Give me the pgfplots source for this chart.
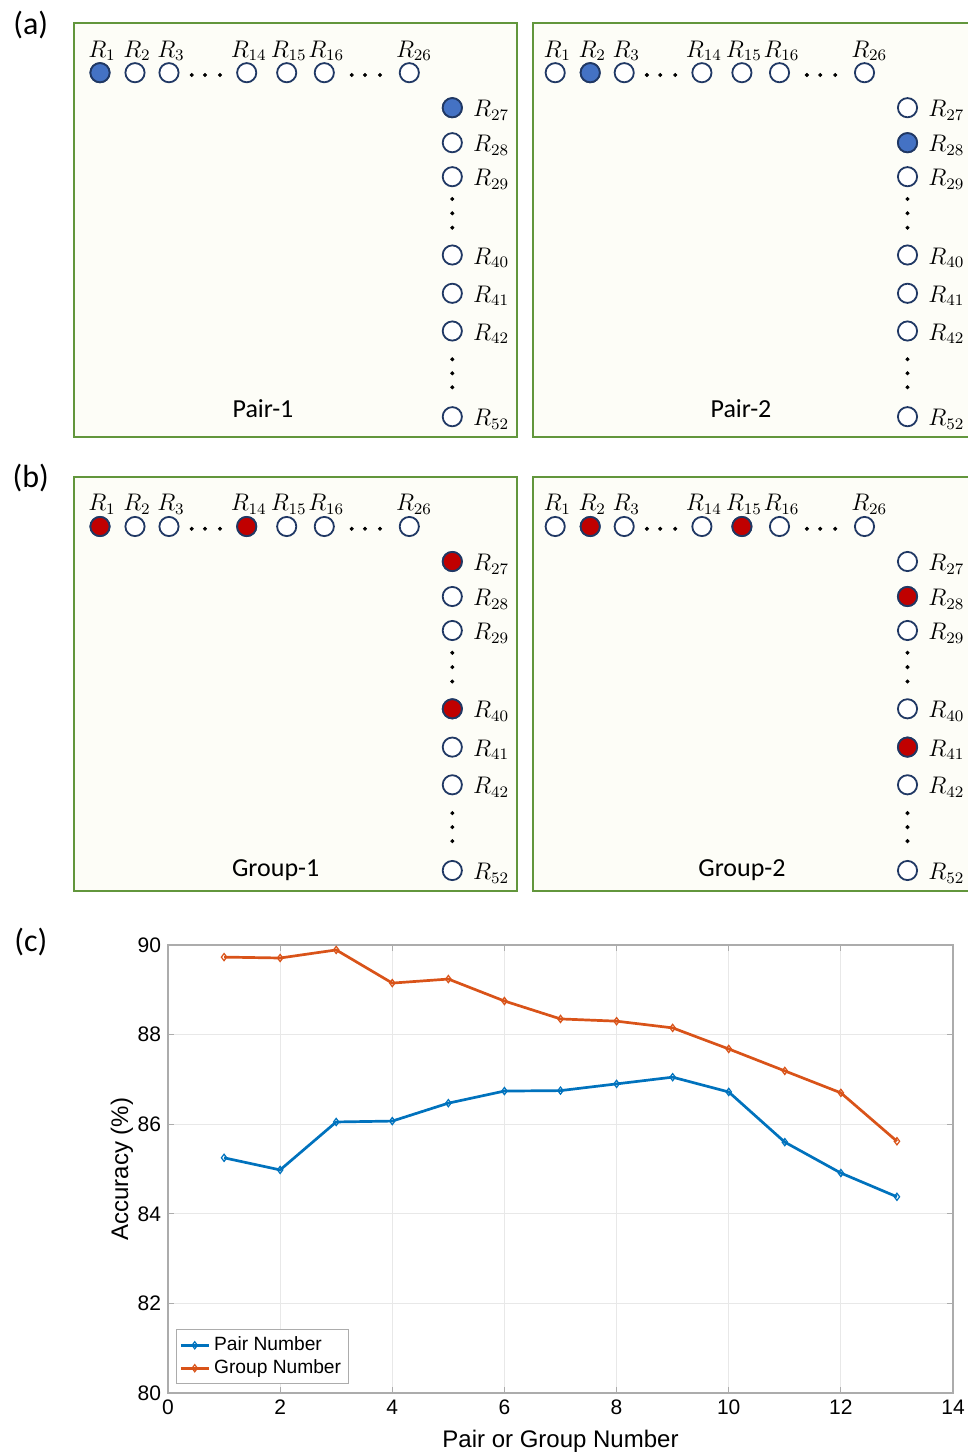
\documentclass[border=0pt]{standalone}
\usepackage{pgfplots}
\pgfplotsset{compat=1.18}
\usepackage{pgfplotstable}
\usepackage{fontspec}
\setmainfont{Carlito}
\newfontfamily\arialf{Liberation Sans}
\definecolor{pgreen}{RGB}{98,150,60}
\definecolor{pcream}{RGB}{253,253,247}
\definecolor{navy}{RGB}{32,56,100}
\definecolor{fblue}{RGB}{68,114,196}
\definecolor{fred}{RGB}{192,0,0}
\definecolor{mblue}{RGB}{0,114,189}
\definecolor{morange}{RGB}{217,83,25}

\pgfplotstableread{
x y
26 49.7
61 49.7
95 49.7
172.7 49.7
212.7 49.7
250.3 49.7
335.3 49.7
378.3 84.7
378.3 119.7
378.3 153.7
378.3 232
378.3 270.3
378.3 308
378.3 393.7
}\circles

\pgfplotstableread{
x y
117.7 52
131 52
146 52
277.7 52
291 52
306 52
378.3 176
378.3 190.3
378.3 204.7
378.3 336.3
378.3 350.3
378.3 364.3
}\dotsrc

\pgfplotstableread{
x y
26 49.7
378.3 84.7
}\pairone
\pgfplotstableread{
x y
61 49.7
378.3 119.7
}\pairtwo
\pgfplotstableread{
x y
26 49.7
172.7 49.7
378.3 84.7
378.3 232
}\groupone
\pgfplotstableread{
x y
61 49.7
212.7 49.7
378.3 119.7
378.3 270.3
}\grouptwo

\pgfplotstableread{
n pair group
1 85.25 89.73
2 84.98 89.71
3 86.05 89.89
4 86.07 89.15
5 86.47 89.24
6 86.74 88.75
7 86.75 88.35
8 86.90 88.30
9 87.05 88.15
10 86.72 87.68
11 85.60 87.19
12 84.91 86.70
13 84.38 85.62
}\acc

\tikzset{
rt/.style={anchor=base, inner sep=0pt, font=\fontsize{11.5}{13}\selectfont},
rc/.style={anchor=base west, inner sep=0pt, font=\fontsize{11.5}{13}\selectfont},
pl/.style={anchor=base, inner sep=0pt, font=\fontsize{13}{15}\selectfont},
}

\newcommand\rlabels{%
\node[rt] at (axis cs:28,34) {$R_{1}$};
\node[rt] at (axis cs:63,34) {$R_{2}$};
\node[rt] at (axis cs:97,34) {$R_{3}$};
\node[rt] at (axis cs:174.7,34) {$R_{14}$};
\node[rt] at (axis cs:214.7,34) {$R_{15}$};
\node[rt] at (axis cs:252.3,34) {$R_{16}$};
\node[rt] at (axis cs:340,34) {$R_{26}$};
\node[rc] at (axis cs:398.8,93.7) {$R_{27}$};
\node[rc] at (axis cs:398.8,128.7) {$R_{28}$};
\node[rc] at (axis cs:398.8,162.7) {$R_{29}$};
\node[rc] at (axis cs:398.8,241) {$R_{40}$};
\node[rc] at (axis cs:398.8,279.3) {$R_{41}$};
\node[rc] at (axis cs:398.8,317) {$R_{42}$};
\node[rc] at (axis cs:398.8,402.7) {$R_{52}$};
}

\pgfplotsset{
panel/.style={anchor=north west, scale only axis, width=221.5pt, height=207pt,
  xmin=0, xmax=443, ymin=0, ymax=414, y dir=reverse,
  axis line style={draw=pgreen, line width=1pt},
  axis background/.style={fill=pcream},
  ticks=none, clip=false},
ring/.style={only marks, mark=*, mark size=4.8pt, mark options={draw=navy, fill=white, line width=0.9pt}},
full/.style={only marks, mark=*, mark size=4.8pt, mark options={draw=navy, fill=#1, line width=0.9pt}},
dotty/.style={only marks, mark=*, mark size=0.8pt, mark options={draw=black, fill=black}},
}

\begin{document}
\begin{tikzpicture}
\useasboundingbox (0,0) rectangle (484pt,-727.5pt);
\clip (0,0) rectangle (484pt,-727.5pt);
\node[font=\fontsize{16}{18}\selectfont] at (15.4pt,-12.5pt) {(a)};
\node[font=\fontsize{16}{18}\selectfont] at (15.4pt,-239pt) {(b)};
\node[font=\fontsize{16}{18}\selectfont] at (15.4pt,-471pt) {(c)};

% Pair-1
\begin{axis}[panel, at={(37pt,-11.5pt)}]
\addplot[ring] table {\circles};
\addplot[full=fblue] table {\pairone};
\addplot[dotty] table {\dotsrc};
\rlabels
\node[pl] at (axis cs:189,394) {Pair-1};
\end{axis}

% Pair-2
\begin{axis}[panel, at={(266.35pt,-11.5pt)}, xmin=3.5, xmax=446.5]
\addplot[ring] table {\circles};
\addplot[full=fblue] table {\pairtwo};
\addplot[dotty] table {\dotsrc};
\rlabels
\node[pl] at (axis cs:211.8,394) {Pair-2};
\end{axis}

% Group-1
\begin{axis}[panel, at={(37pt,-238.4pt)}]
\addplot[ring] table {\circles};
\addplot[full=fred] table {\groupone};
\addplot[dotty] table {\dotsrc};
\rlabels
\node[pl] at (axis cs:201.7,400) {Group-1};
\end{axis}

% Group-2
\begin{axis}[panel, at={(266.35pt,-238.4pt)}, xmin=3.5, xmax=446.5]
\addplot[ring] table {\circles};
\addplot[full=fred] table {\grouptwo};
\addplot[dotty] table {\dotsrc};
\rlabels
\node[pl] at (axis cs:212.8,400) {Group-2};
\end{axis}

% Chart (c)
\begin{axis}[at={(84pt,-472.5pt)}, anchor=north west, scale only axis,
  width=392.5pt, height=224pt,
  xmin=0, xmax=14, ymin=80, ymax=90,
  xtick={0,2,...,14}, ytick={80,82,...,90},
  grid=major, grid style={gray!18, line width=0.4pt},
  axis line style={gray!65, line width=0.6pt},
  tick style={gray!65, line width=0.6pt},
  tick align=inside, major tick length=3pt,
  /pgf/number format/assume math mode=true,
  ticklabel style={font=\arialf\fontsize{10.5}{12}\selectfont},
  xlabel={Pair or Group Number}, ylabel={Accuracy (\%)},
  label style={font=\arialf\fontsize{12}{14}\selectfont},
  xlabel style={at={(axis description cs:0.5,-0.107)}, anchor=center},
  ylabel style={at={(axis description cs:-0.0586,0.5)}, anchor=center},
  legend style={at={(axis description cs:0.0102,0.02)}, anchor=south west,
    font=\arialf\fontsize{9.6}{12}\selectfont, draw=gray!65, inner sep=1.5pt,
    row sep=-1pt, cells={anchor=west}},
  legend image code/.code={\draw[mark repeat=2,mark phase=2,#1] plot coordinates {(0pt,0pt) (7pt,0pt) (14pt,0pt)};},
]
\addplot[color=mblue, line width=1.35pt, mark=diamond, mark size=1.8pt, mark options={solid, fill=white, line width=0.6pt}] table[x=n, y=pair] {\acc};
\addlegendentry{Pair Number}
\addplot[color=morange, line width=1.35pt, mark=diamond, mark size=1.8pt, mark options={solid, fill=white, line width=0.6pt}] table[x=n, y=group] {\acc};
\addlegendentry{Group Number}
\end{axis}
\end{tikzpicture}
\end{document}
